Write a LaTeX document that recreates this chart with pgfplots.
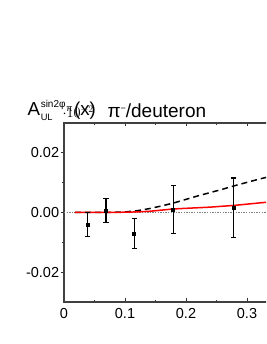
\documentclass[border=0pt]{standalone}
\usepackage{pgfplots}
\pgfplotsset{compat=1.18}
\usepackage{fontspec}
\setmainfont{Liberation Sans}
\begin{document}
\begin{tikzpicture}[x=1pt,y=1pt]
\useasboundingbox (0,0) rectangle (266,344);
\clip (0,0) rectangle (266,344);
\begin{axis}[
  at={(64pt,42pt)}, anchor=south west,
  scale only axis, width=213.5pt, height=179pt,
  xmin=0, xmax=0.35, ymin=-0.03, ymax=0.03,
  xtick={0,0.1,0.2,0.3}, xticklabels={0,0.1,0.2,0.3},
  minor xtick={0.05,0.15,0.25,0.35},
  ytick={-0.02,0,0.02}, yticklabels={-0.02,0.00,0.02},
  minor ytick={-0.01,0.01},
  tick align=inside,
  major tick length=3.5pt, minor tick length=2.2pt,
  every major y tick/.append style={xshift=-3.5pt},
  every minor y tick/.append style={xshift=-2.2pt},
  axis line style={draw=black!75, line width=1.1pt},
  every tick/.style={draw=black!80, line width=0.9pt},
  /pgf/number format/assume math mode=true,
  ticklabel style={font=\fontsize{14.5}{16}\selectfont},
  yticklabel style={anchor=east, inner sep=0pt, xshift=-4.7pt},
  xticklabel style={anchor=north, inner sep=0pt, yshift=-6pt},
  clip=true,
]
\addplot[gray, line width=0.7pt, dash pattern=on 1.3pt off 1.3pt] coordinates {(0,0) (0.35,0)};
\addplot[black, line width=1.5pt, dash pattern=on 6pt off 4pt] coordinates {
(0.018,0) (0.04,0) (0.06,0) (0.08,0.00005) (0.10,0.0002) (0.12,0.0006) (0.14,0.0013)
(0.16,0.0022) (0.18,0.0032) (0.20,0.0044) (0.22,0.0056) (0.24,0.0067) (0.26,0.0078)
(0.28,0.0090) (0.30,0.0101) (0.32,0.0112) (0.34,0.0122)};
\addplot[red, line width=1.5pt] coordinates {
(0.018,0) (0.04,0) (0.06,0) (0.08,0.00003) (0.10,0.0001) (0.12,0.0002) (0.14,0.0004)
(0.16,0.0008) (0.18,0.0012) (0.20,0.0014) (0.22,0.0016) (0.24,0.0018) (0.26,0.0021)
(0.28,0.0024) (0.30,0.0028) (0.32,0.0032) (0.34,0.0036)};
\addplot[black, only marks, mark=square*, mark size=1.5pt,
  error bars/.cd, y dir=both, y explicit,
  error bar style={line width=1.3pt, black},
  error mark options={rotate=90, mark size=2.6pt, line width=1.3pt, black}]
  table[x=x, y=y, y error=e] {
x y e
0.039 -0.0040 0.0040
0.069 0.0007 0.0041
0.115 -0.0070 0.0050
0.179 0.0010 0.0081
0.278 0.0016 0.0100
};
\end{axis}
\node[anchor=base west, inner sep=0pt] at (27.3,228.5) {\fontsize{18.7}{20}\selectfont A\kern0.8pt\rlap{\raisebox{-5pt}{\fontsize{9.3}{10}\selectfont UL}}\raisebox{8.3pt}{\fontsize{10}{11}\selectfont sin2φ}\kern0.8pt\raisebox{4.3pt}{\fontsize{9}{10}\selectfont π}\kern1.5pt(x)};
\node[anchor=base west, inner sep=0pt] at (107.3,226.5) {\fontsize{19}{20}\selectfont π\raisebox{6pt}{\fontsize{9}{9}\selectfont −}/deuteron};
\end{tikzpicture}
\end{document}
